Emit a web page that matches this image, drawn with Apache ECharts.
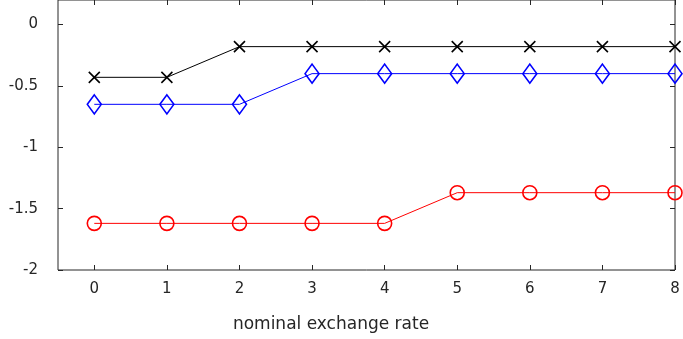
<!DOCTYPE html>
<html>
<head>
<meta charset="utf-8">
<script src="https://cdn.jsdelivr.net/npm/echarts@6/dist/echarts.min.js"></script>
<style>
	html, body { margin: 0; padding: 0; background: #fff; }
	#main { width: 683px; height: 339px; }
</style>
</head>
<body>
<div id="main"></div>
<script>
var xValues = [0, 1, 2, 3, 4, 5, 6, 7, 8];
var blackData = [-0.43, -0.43, -0.18, -0.18, -0.18, -0.18, -0.18, -0.18, -0.18];
var blueData = [-0.65, -0.65, -0.65, -0.40, -0.40, -0.40, -0.40, -0.40, -0.40];
var redData = [-1.62, -1.62, -1.62, -1.62, -1.62, -1.37, -1.37, -1.37, -1.37];
var xTicks = [0, 1, 2, 3, 4, 5, 6, 7, 8];
var yTicks = [-2, -1.5, -1, -0.5, 0];
var xName = 'nominal exchange rate';

function pairs(ys) {
	var out = [];
	for (var i = 0; i < xValues.length; i++) {
		out.push([xValues[i], ys[i]]);
	}
	return out;
}

var txt = '#262626';
var font = 'DejaVu Sans, sans-serif';

function xAxisCfg(pos, labels) {
	return {
		type: 'value', min: -0.5, max: 8, position: pos,
		axisLine: { show: false, onZero: false },
		axisTick: { show: true, inside: true, length: 5, customValues: xTicks, lineStyle: { color: txt } },
		axisLabel: { show: labels, customValues: xTicks, color: txt, fontSize: 15, fontFamily: font, margin: 12 },
		splitLine: { show: false }
	};
}
function yAxisCfg(pos, labels) {
	return {
		type: 'value', min: -2, max: 0.2, position: pos,
		axisLine: { show: false, onZero: false },
		axisTick: { show: true, inside: true, length: 5, customValues: yTicks, lineStyle: { color: txt } },
		axisLabel: { show: labels, customValues: yTicks, color: txt, fontSize: 15, fontFamily: font, margin: 20 },
		splitLine: { show: false }
	};
}

var chart = echarts.init(document.getElementById('main'));
var option = {
	animation: false,
	grid: {
		left: 58, right: 8, top: 0, bottom: 69,
		show: true, borderColor: '#262626', borderWidth: 1
	},
	xAxis: [xAxisCfg('bottom', true), xAxisCfg('top', false)],
	yAxis: [yAxisCfg('left', true), yAxisCfg('right', false)],
	graphic: [{
		type: 'text', x: 331, y: 325,
		style: {
			text: xName, fill: txt, fontSize: 17, fontFamily: font,
			align: 'center', verticalAlign: 'middle'
		}
	}],
	series: [
		{
			type: 'line', data: pairs(blackData), clip: false,
			symbol: 'path://M0,0L10,10M10,0L0,10', symbolSize: 11,
			lineStyle: { color: '#000', width: 1 },
			itemStyle: { color: 'none', borderColor: '#000', borderWidth: 1.6 },
			z: 3
		},
		{
			type: 'line', data: pairs(blueData), clip: false,
			symbol: 'diamond', symbolSize: [14, 19],
			lineStyle: { color: '#0000ff', width: 1 },
			itemStyle: { color: 'none', borderColor: '#0000ff', borderWidth: 1.6 },
			z: 3
		},
		{
			type: 'line', data: pairs(redData), clip: false,
			symbol: 'circle', symbolSize: 14,
			lineStyle: { color: '#ff0000', width: 1 },
			itemStyle: { color: 'none', borderColor: '#ff0000', borderWidth: 1.6 },
			z: 3
		}
	]
};
chart.setOption(option);
</script>
</body>
</html>
